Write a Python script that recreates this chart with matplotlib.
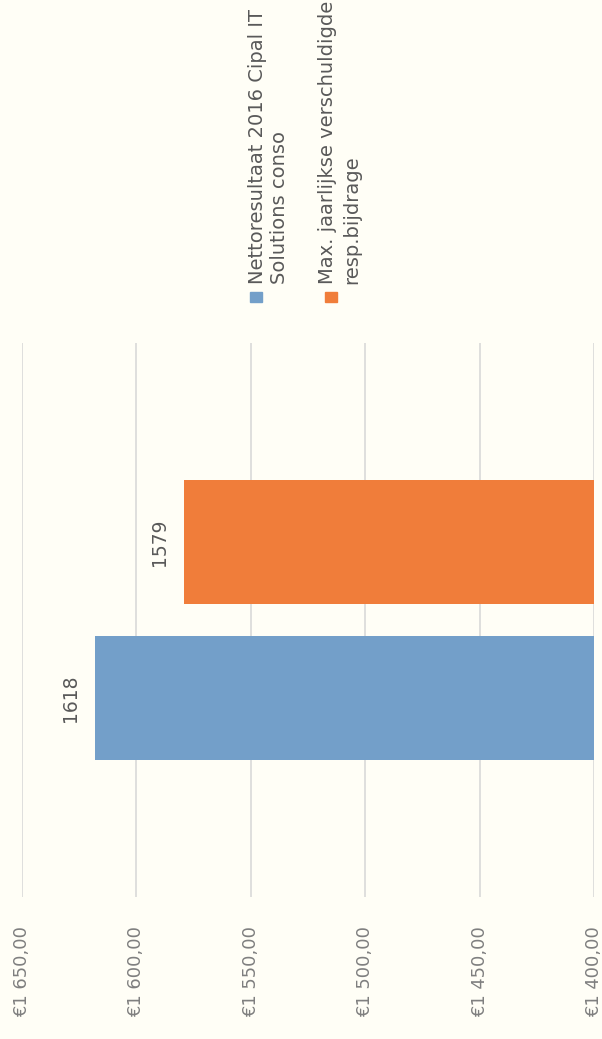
import matplotlib
matplotlib.use("Agg")
import matplotlib.pyplot as plt
from matplotlib.patches import Rectangle

# Data
series_names = ["Nettoresultaat 2016 Cipal IT\nSolutions conso",
                "Max. jaarlijkse verschuldigde\nresp.bijdrage"]
values = [1618, 1579]
colors = ["#739FC9", "#F07D3A"]
axis_ticks = [1400, 1450, 1500, 1550, 1600, 1650]
axis_min, axis_max = 1400, 1650

W, H = 602, 1039
bg = "#FFFEF6"
plt.rcParams['font.family'] = ['DejaVu Sans']

fig = plt.figure(figsize=(W / 100, H / 100), dpi=100, facecolor=bg)

def fx(x):
    return x / W

def fy(y):
    return 1 - y / H

ax = fig.add_axes([fx(22), fy(897), fx(594) - fx(22), (897 - 343) / H])
ax.set_facecolor(bg)
ax.set_xlim(axis_max, axis_min)
ax.set_ylim(-0.5, 0.5)

offsets = [-0.1408, 0.1408]
bar_h = 0.2256
for v, c, o in zip(values, colors, offsets):
    ax.barh(o, v - axis_min, left=axis_min, height=bar_h, color=c, zorder=3)
    ax.text(v + 11, o, f"{v}", rotation=90, ha="center", va="center",
            fontsize=13.5, color="#595959", zorder=4)

ax.set_xticks(axis_ticks)
ax.set_xticklabels([f"€{t:,.2f}".replace(",", " ").replace(".", ",") for t in axis_ticks],
                   rotation=90, fontsize=12.9, color="#7F7F7F", va="top", ha="center")
ax.tick_params(axis="x", length=0, pad=21)
ax.set_yticks([])
ax.grid(axis="x", color="#D9D9D9", linewidth=1.2, zorder=0)
for s in ax.spines.values():
    s.set_visible(False)

# Legend (rotated)
sq_x = [250, 325]
line_x = [(263, 285), (333, 357)]
for name, c, sx, lx in zip(series_names, colors, sq_x, line_x):
    fig.add_artist(Rectangle((fx(sx), fy(302)), 12 / W, 10 / H,
                             transform=fig.transFigure, color=c))
    for txt, x in zip(name.split("\n"), lx):
        fig.text(fx(x), fy(284), txt, rotation=90, rotation_mode="anchor",
                 ha="left", va="baseline", fontsize=14, color="#595959")

fig.savefig("out.png", dpi=100, facecolor=bg)
